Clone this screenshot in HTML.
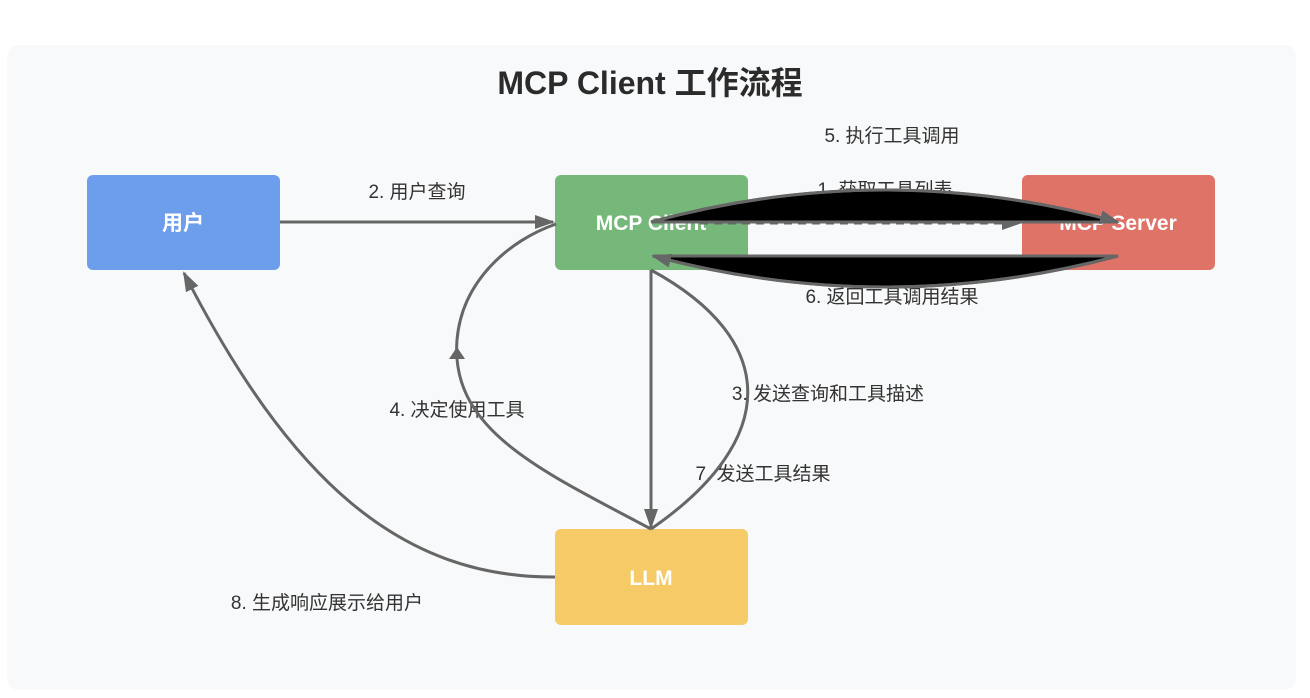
<!DOCTYPE html>
<html><head><meta charset="utf-8"><style>
html,body{margin:0;padding:0;background:#fff;width:1310px;height:698px;overflow:hidden}
svg{display:block}
text{font-family:"Liberation Sans","Noto Sans CJK SC",sans-serif}
</style></head><body>
<svg width="1310" height="698" viewBox="0 0 1310 698">
<defs>
<marker id="b" markerWidth="20" markerHeight="14" refX="18" refY="7" orient="auto" markerUnits="userSpaceOnUse"><path d="M0,0 L20,7 L0,14 z" fill="#666"/></marker>
</defs>
<rect x="7" y="45" width="1289" height="645" rx="12" fill="#f8f9fa"/>
<text x="650" y="94" text-anchor="middle" font-size="32" font-weight="bold" fill="#2b2b2b">MCP Client 工作流程</text>

<rect x="87" y="175" width="193" height="95" rx="6" fill="#6d9eeb"/>
<text x="183" y="230" text-anchor="middle" font-size="21" font-weight="bold" fill="#fff">用户</text>
<rect x="555" y="175" width="193" height="95" rx="6" fill="#76b87a"/>
<text x="651" y="230" text-anchor="middle" font-size="21" font-weight="bold" fill="#fff">MCP Client</text>
<rect x="1022" y="175" width="193" height="95" rx="6" fill="#e07367"/>
<text x="1118" y="230" text-anchor="middle" font-size="21" font-weight="bold" fill="#fff">MCP Server</text>
<rect x="555" y="529" width="193" height="96" rx="6" fill="#f5ca67"/>
<text x="651" y="585" text-anchor="middle" font-size="21" font-weight="bold" fill="#fff">LLM</text>

<g font-size="19" fill="#333" text-anchor="middle">
<text x="417" y="198">2. 用户查询</text>
<text x="892" y="142">5. 执行工具调用</text>
<text x="885" y="196">1. 获取工具列表</text>
<text x="892" y="303">6. 返回工具调用结果</text>
<text x="457" y="416">4. 决定使用工具</text>
<text x="828" y="400">3. 发送查询和工具描述</text>
<text x="763" y="480">7. 发送工具结果</text>
<text x="327" y="609">8. 生成响应展示给用户</text>
</g>

<g stroke="#666" stroke-width="3" fill="none">
<line x1="280" y1="222" x2="553" y2="222" marker-end="url(#b)"/>
<line x1="700" y1="223" x2="1020" y2="223" stroke-dasharray="8,6" marker-end="url(#b)"/>
<line x1="651" y1="270" x2="651" y2="527" marker-end="url(#b)"/>
<path d="M651 270 C780 340 780 440 651 529"/>
<path d="M651 529 C540 470 450 430 457 340 C462 280 510 240 556 224"/>
<path d="M555 577 C400 578 290 480 184 273" marker-end="url(#b)"/>
<path d="M651 222 Q885 158 1118 222 Z" fill="#000"/>
<path d="M1118 256 Q885 318 653 256 Z" fill="#000"/>
</g>
<path d="M651 222 Q885 158 1118 222" fill="none" stroke="#666" stroke-width="3" marker-end="url(#b)"/>
<path d="M1118 256 Q885 318 653 256" fill="none" stroke="#666" stroke-width="3" marker-end="url(#b)"/>
<path d="M449 359 L457 347 L465 359 z" fill="#666"/>
</svg>
</body></html>
